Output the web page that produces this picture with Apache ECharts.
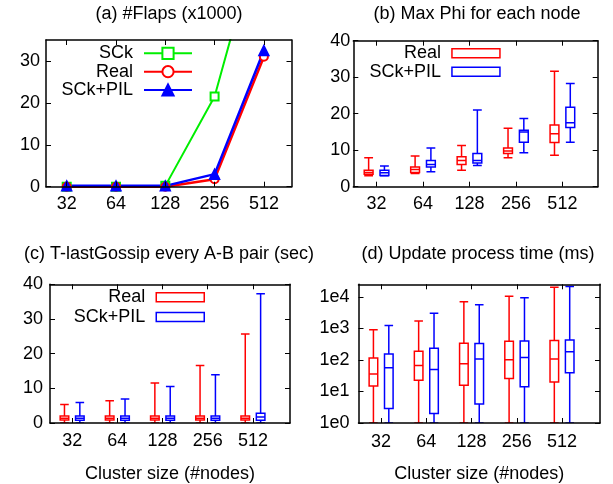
<!DOCTYPE html>
<html>
<head>
<meta charset="utf-8">
<script src="https://cdn.jsdelivr.net/npm/echarts@6/dist/echarts.min.js"></script>
<style>
html,body{margin:0;padding:0;background:#fff;}
#c{width:613px;height:484px;}
</style>
</head>
<body>
<div id="c"></div>
<script>
// ---------- data ----------
const sizes = ['32', '64', '128', '256', '512'];

// (a) #Flaps (x1000)
const flapsSCk  = [0, 0, 0.2, 21.5, 64];
const flapsReal = [0, 0, 0, 1.8, 31];
const flapsPIL  = [0.2, 0.2, 0.2, 3.0, 32.5];

// (b) Max Phi for each node: [low, q1, median, q3, high]
const phiReal = [
  [3.0, 3.4, 3.9, 4.5, 7.9],
  [3.6, 3.9, 4.7, 5.4, 8.4],
  [4.5, 6.1, 7.2, 8.2, 11.3],
  [7.9, 9.1, 9.8, 10.6, 16.0],
  [8.6, 12.1, 14.5, 16.9, 31.6]
];
const phiPIL = [
  [3.0, 3.1, 3.8, 4.5, 5.7],
  [4.1, 5.4, 6.1, 7.2, 10.6],
  [5.8, 6.5, 7.2, 9.1, 21.0],
  [9.3, 12.2, 15.0, 15.5, 18.7],
  [12.2, 16.2, 17.5, 21.8, 28.3]
];

// (c) T-lastGossip every A-B pair (sec)
const gossipReal = [
  [0, 0.9, 1.4, 2.0, 5.3],
  [0, 0.9, 1.4, 2.0, 6.4],
  [0, 0.9, 1.4, 2.0, 11.5],
  [0, 0.9, 1.4, 2.0, 16.6],
  [0, 0.9, 1.4, 2.0, 25.7]
];
const gossipPIL = [
  [0, 0.8, 1.4, 2.0, 5.9],
  [0, 0.8, 1.4, 2.0, 6.9],
  [0, 0.8, 1.4, 2.0, 10.5],
  [0, 0.8, 1.4, 2.0, 13.9],
  [0, 0.8, 1.7, 2.8, 37.3]
];

// (d) Update process time (ms)
const updReal = [
  [1, 15, 36, 115, 900],
  [1, 22.5, 66, 187, 1730],
  [1, 15.6, 75, 340, 7000],
  [1, 26, 102, 390, 10400],
  [1, 20, 107, 415, 20000]
];
const updPIL = [
  [1, 2.9, 56, 155, 1230],
  [1, 2, 50, 233, 3000],
  [1, 4.0, 107, 330, 5600],
  [1, 14, 120, 400, 9300],
  [1, 39, 183, 425, 21400]
];

const yTicksA = [0, 10, 20, 30];
const yTicksB = [0, 10, 20, 30, 40];
const yTicksC = [0, 10, 20, 30, 40];
const yTicksD = [0, 1, 2, 3, 4]; // powers of ten

// ---------- helpers ----------
const FONT = "'Liberation Sans', Arial, Helvetica, sans-serif";
const FS = 18;
const RED = '#ff0000', BLUE = '#0000ff', GREEN = '#00ee00';
const xIdx = [0, 1, 2, 3, 4];

const grids = [
  {left: 46, top: 40, width: 245.5, height: 146.7},
  {left: 353.3, top: 40.7, width: 244.4, height: 146},
  {left: 50, top: 284.3, width: 240, height: 139.7},
  {left: 358.5, top: 284.3, width: 241.5, height: 139.7}
];
const xRanges = [[-0.42, 4.56], [-0.5, 4.76], [-0.49, 4.82], [-0.5, 4.84]];
const yRanges = [[0, 35], [0, 40], [0, 40], [0, Math.log10(25000)]];
const yTicks = [yTicksA, yTicksB, yTicksC, yTicksD];
const yLabelMargin = [6, 3, 7, 9];
const xLabelMargin = [8, 8, 9, 10];

const axisLineStyle = {show: true, onZero: false, lineStyle: {color: '#000', width: 1.5}};
const tickStyle = {show: true, inside: true, length: 5, lineStyle: {color: '#000', width: 1}};

const xAxes = [], yAxes = [];
grids.forEach((g, i) => {
  xAxes.push({
    type: 'value', gridIndex: i, position: 'bottom', min: xRanges[i][0], max: xRanges[i][1],
    z: 10, axisLine: axisLineStyle, splitLine: {show: false},
    axisTick: Object.assign({customValues: xIdx}, tickStyle),
    axisLabel: {customValues: xIdx, formatter: v => sizes[Math.round(v)], color: '#000',
      fontFamily: FONT, fontSize: FS, margin: xLabelMargin[i]},
    name: i >= 2 ? 'Cluster size (#nodes)' : '', nameLocation: 'middle', nameGap: 42,
    nameTextStyle: {fontFamily: FONT, fontSize: FS, color: '#000'}
  });
  xAxes.push({
    type: 'value', gridIndex: i, position: 'top', min: xRanges[i][0], max: xRanges[i][1],
    z: 10, axisLine: axisLineStyle, splitLine: {show: false},
    axisTick: Object.assign({customValues: xIdx}, tickStyle),
    axisLabel: {show: false}
  });
  yAxes.push({
    type: 'value', gridIndex: i, position: 'left', min: yRanges[i][0], max: yRanges[i][1],
    z: 10, axisLine: axisLineStyle, splitLine: {show: false},
    axisTick: Object.assign({customValues: yTicks[i]}, tickStyle),
    axisLabel: {customValues: yTicks[i], color: '#000', fontFamily: FONT, fontSize: FS,
      margin: yLabelMargin[i], formatter: i === 3 ? (v => '1e' + Math.round(v)) : (v => String(v))}
  });
  yAxes.push({
    type: 'value', gridIndex: i, position: 'right', min: yRanges[i][0], max: yRanges[i][1],
    z: 10, axisLine: axisLineStyle, splitLine: {show: false},
    axisTick: Object.assign({customValues: yTicks[i]}, tickStyle),
    axisLabel: {show: false}
  });
});

const BOXW = 0.19, OFF = 0.17;
function boxRender(offset, color) {
  return function (params, api) {
    const x = api.value(0) + offset;
    const lo = api.coord([x, api.value(1)]);
    const q1 = api.coord([x, api.value(2)]);
    const md = api.coord([x, api.value(3)]);
    const q3 = api.coord([x, api.value(4)]);
    const hi = api.coord([x, api.value(5)]);
    const w = api.size([BOXW, 0])[0];
    const cx = lo[0], hw = w / 2;
    const st = {stroke: color, lineWidth: 1.5, fill: null};
    return {type: 'group', children: [
      {type: 'line', shape: {x1: cx, y1: hi[1], x2: cx, y2: q3[1]}, style: st},
      {type: 'line', shape: {x1: cx, y1: q1[1], x2: cx, y2: lo[1]}, style: st},
      {type: 'line', shape: {x1: cx - hw, y1: hi[1], x2: cx + hw, y2: hi[1]}, style: st},
      {type: 'line', shape: {x1: cx - hw, y1: lo[1], x2: cx + hw, y2: lo[1]}, style: st},
      {type: 'rect', shape: {x: cx - hw, y: q3[1], width: w, height: q1[1] - q3[1]}, style: st},
      {type: 'line', shape: {x1: cx - hw, y1: md[1], x2: cx + hw, y2: md[1]}, style: st}
    ]};
  };
}
function boxSeries(name, panel, arr, offset, color, tf) {
  return {
    type: 'custom', name: name, xAxisIndex: panel * 2, yAxisIndex: panel * 2, clip: true,
    itemStyle: {color: color},
    renderItem: boxRender(offset, color),
    encode: {x: 0, y: [1, 2, 3, 4, 5]},
    data: arr.map((r, i) => [i].concat(r.map(tf || (v => v))))
  };
}
const lg = v => Math.log10(v);

function lineSeries(name, arr, color, symbol, size, width) {
  return {
    type: 'line', name: name, xAxisIndex: 0, yAxisIndex: 0, clip: true,
    data: arr.map((v, i) => [i, v]),
    symbol: symbol, symbolSize: size, showAllSymbol: true,
    lineStyle: {color: color, width: width},
    itemStyle: {color: color, borderColor: color, borderWidth: 1.5}
  };
}

const series = [
  lineSeries('a|SCk', flapsSCk, GREEN, 'emptyRect', 8, 2),
  lineSeries('a|Real', flapsReal, RED, 'emptyCircle', 8, 2.5),
  lineSeries('a|SCk+PIL', flapsPIL, BLUE, 'triangle', 10, 2.5),
  boxSeries('b|Real', 1, phiReal, -OFF, RED),
  boxSeries('b|SCk+PIL', 1, phiPIL, OFF, BLUE),
  boxSeries('c|Real', 2, gossipReal, -OFF, RED),
  boxSeries('c|SCk+PIL', 2, gossipPIL, OFF, BLUE),
  boxSeries('d|Real', 3, updReal, -OFF, RED, lg),
  boxSeries('d|SCk+PIL', 3, updPIL, OFF, BLUE, lg)
];

const fmt = n => n.split('|')[1];
function lineLegend(name, right, centerY) {
  return {
    show: true, orient: 'horizontal', align: 'right', right: right, top: centerY - 9, padding: 0,
    itemWidth: 48, itemHeight: 14, data: [name], formatter: fmt, selectedMode: false,
    textStyle: {fontFamily: FONT, fontSize: FS, color: '#000', padding: [0, 6, 0, 0]}
  };
}
function boxLegend(name, color, right, centerY) {
  return {
    show: true, orient: 'horizontal', align: 'right', right: right, top: centerY - 9, padding: 0,
    itemWidth: 48, itemHeight: 9, formatter: fmt, selectedMode: false,
    data: [{name: name, icon: 'rect', itemStyle: {color: '#fff', borderColor: color, borderWidth: 1.5}}],
    textStyle: {fontFamily: FONT, fontSize: FS, color: '#000', padding: [0, 6, 0, 0]}
  };
}

const titleStyle = {fontFamily: FONT, fontSize: FS, fontWeight: 'normal', color: '#000'};
const option = {
  animation: false,
  backgroundColor: '#fff',
  title: [
    {text: '(a) #Flaps (x1000)', left: 169, top: 5, textAlign: 'center', padding: 0, textStyle: titleStyle},
    {text: '(b) Max Phi for each node', left: 477, top: 5, textAlign: 'center', padding: 0, textStyle: titleStyle},
    {text: '(c) T-lastGossip every A-B pair (sec)', left: 169, top: 245, textAlign: 'center', padding: 0, textStyle: titleStyle},
    {text: '(d) Update process time (ms)', left: 478, top: 245, textAlign: 'center', padding: 0, textStyle: titleStyle}
  ],
  legend: [
    lineLegend('a|SCk', 420, 53.3),
    lineLegend('a|Real', 420, 71.7),
    lineLegend('a|SCk+PIL', 420, 90),
    boxLegend('b|Real', RED, 112.3, 53.3),
    boxLegend('b|SCk+PIL', BLUE, 112.3, 71.7),
    boxLegend('c|Real', RED, 408, 297.3),
    boxLegend('c|SCk+PIL', BLUE, 408, 317)
  ],
  grid: grids.map(g => Object.assign({show: false, containLabel: false}, g)),
  xAxis: xAxes,
  yAxis: yAxes,
  series: series
};

const chart = echarts.init(document.getElementById('c'), null, {renderer: 'canvas'});
chart.setOption(option);
</script>
</body>
</html>
